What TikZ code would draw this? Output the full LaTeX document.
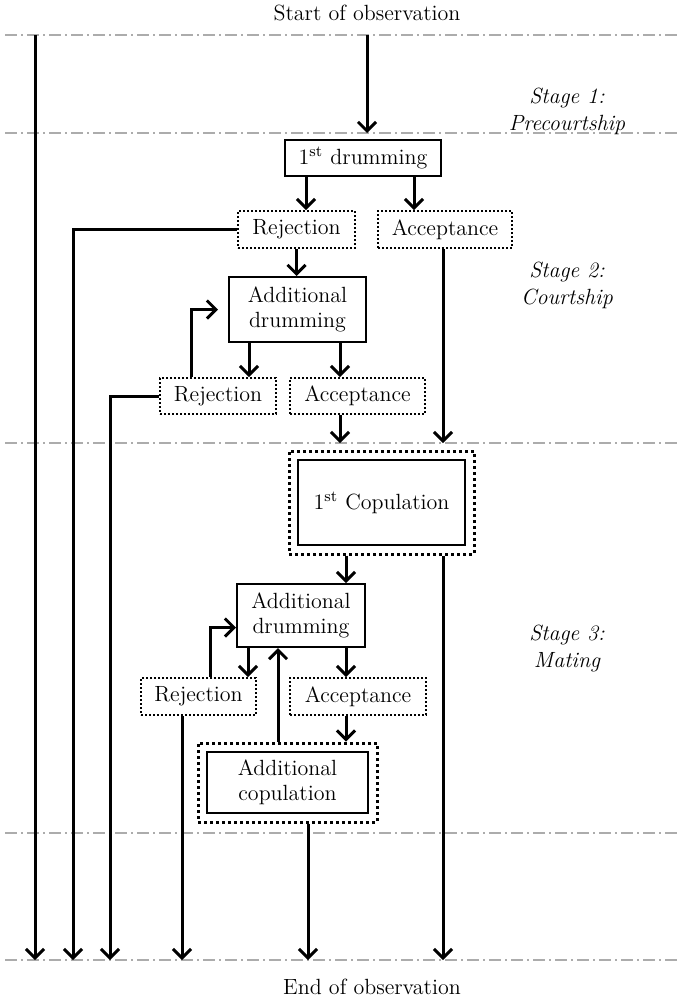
\documentclass[tikz,border=0pt]{standalone}
\usetikzlibrary{arrows.meta,fit}
\begin{document}
\begin{tikzpicture}[x=0.5pt,y=-0.5pt,
    font=\fontsize{11}{12.5}\selectfont,
    solidbox/.style={draw,line width=1pt,inner sep=0pt,align=center},
    dotbox/.style={draw,line width=0.9pt,dash pattern=on 0.9pt off 1.1pt,inner sep=0pt,align=center},
    outerbox/.style={draw,line width=1.5pt,dash pattern=on 1.5pt off 1.5pt,inner sep=4pt},
    flow/.style={line width=1.5pt,-{Straight Barb[length=4.5pt,width=9pt]}},
    stageline/.style={gray!65,line width=0.6pt,dash pattern=on 6pt off 2pt on 1pt off 2pt},
    stagelabel/.style={font=\fontsize{11}{13.5}\selectfont\itshape,align=center}]

    \useasboundingbox (0,0) rectangle (680,1001);

    % stage borders
    \coordinate (l1) at (0,35);
    \coordinate (l2) at (0,133);
    \coordinate (l3) at (0,443);
    \coordinate (l4) at (0,833);
    \coordinate (l5) at (0,960);
    \foreach \y in {35,133,443,833,960}
        \draw[stageline] (5,\y) -- (680,\y);

    \node (start) at (367,13) {Start of observation};
    \node (end) at (372,987) {End of observation};

    \node[stagelabel] (st1) at (567,111) {Stage 1:\\Precourtship};
    \node[stagelabel] (st2) at (567,285) {Stage 2:\\Courtship};
    \node[stagelabel] (st3) at (567,648) {Stage 3:\\Mating};

    % boxes
    \node[solidbox, minimum width=78pt, minimum height=18pt] (drum1) at (363,158) {1\textsuperscript{st} drumming};
    \node[dotbox, minimum width=58.5pt, minimum height=18.5pt] (rej1) at (296.5,229.5) {Rejection};
    \node[dotbox, minimum width=67pt, minimum height=18.5pt] (acc1) at (445,229.5) {Acceptance};
    \node[solidbox, minimum width=68.5pt, minimum height=32.5pt] (adrum1) at (297.5,309.5) {Additional\\drumming};
    \node[dotbox, minimum width=58pt, minimum height=18pt] (rej2) at (218,396) {Rejection};
    \node[dotbox, minimum width=67.5pt, minimum height=18pt] (acc2) at (357.5,396) {Acceptance};
    \node[solidbox, minimum width=83.5pt, minimum height=42.5pt] (cop1) at (381.5,502.5) {1\textsuperscript{st} Copulation};
    \node[outerbox, fit=(cop1)] (cop1out) {};
    \node[solidbox, minimum width=64pt, minimum height=31.5pt] (adrum2) at (301,615.5) {Additional\\drumming};
    \node[dotbox, minimum width=57.5pt, minimum height=18.5pt] (rej3) at (198.5,696.5) {Rejection};
    \node[dotbox, minimum width=68pt, minimum height=18.5pt] (acc3) at (358,696.5) {Acceptance};
    \node[solidbox, minimum width=80.5pt, minimum height=30.5pt] (acop) at (287.5,782.5) {Additional\\copulation};
    \node[outerbox, fit=(acop)] (acopout) {};

    % connectors
    \draw[flow] (35,0 |- l1) -- (35,0 |- l5);
    \draw[flow] (367,0 |- l1) -- (367,0 |- l2);
    \draw[flow] (306,0 |- drum1.south) -- (306,0 |- rej1.north);
    \draw[flow] (414,0 |- drum1.south) -- (414,0 |- acc1.north);
    \draw[flow] (rej1.west) -| (73,0 |- l5);
    \draw[flow] (rej1.south) -- (rej1.south |- adrum1.north);
    \draw[flow] (443,0 |- acc1.south) -- (443,0 |- l3);
    \draw[flow] (249,0 |- adrum1.south) -- (249,0 |- rej2.north);
    \draw[flow] (340,0 |- adrum1.south) -- (340,0 |- acc2.north);
    \draw[flow, shorten >=5pt] (191,0 |- rej2.north) |- (adrum1.west);
    \draw[flow] (rej2.west) -| (110,0 |- l5);
    \draw[flow] (340,0 |- acc2.south) -- (340,0 |- l3);
    \draw[flow] (346,0 |- cop1out.south) -- (346,0 |- adrum2.north);
    \draw[flow] (443,0 |- cop1out.south) -- (443,0 |- l5);
    \draw[flow] (248,0 |- adrum2.south) -- (248,0 |- rej3.north);
    \draw[flow] (346,0 |- adrum2.south) -- (346,0 |- acc3.north);
    \draw[flow] (210,0 |- rej3.north) |- ([yshift=-6pt]adrum2.west);
    \draw[flow] (278,0 |- acopout.north) -- (278,0 |- adrum2.south);
    \draw[flow] (182,0 |- rej3.south) -- (182,0 |- l5);
    \draw[flow] (346,0 |- acc3.south) -- (346,0 |- acopout.north);
    \draw[flow] (308,0 |- acopout.south) -- (308,0 |- l5);

\end{tikzpicture}
\end{document}
